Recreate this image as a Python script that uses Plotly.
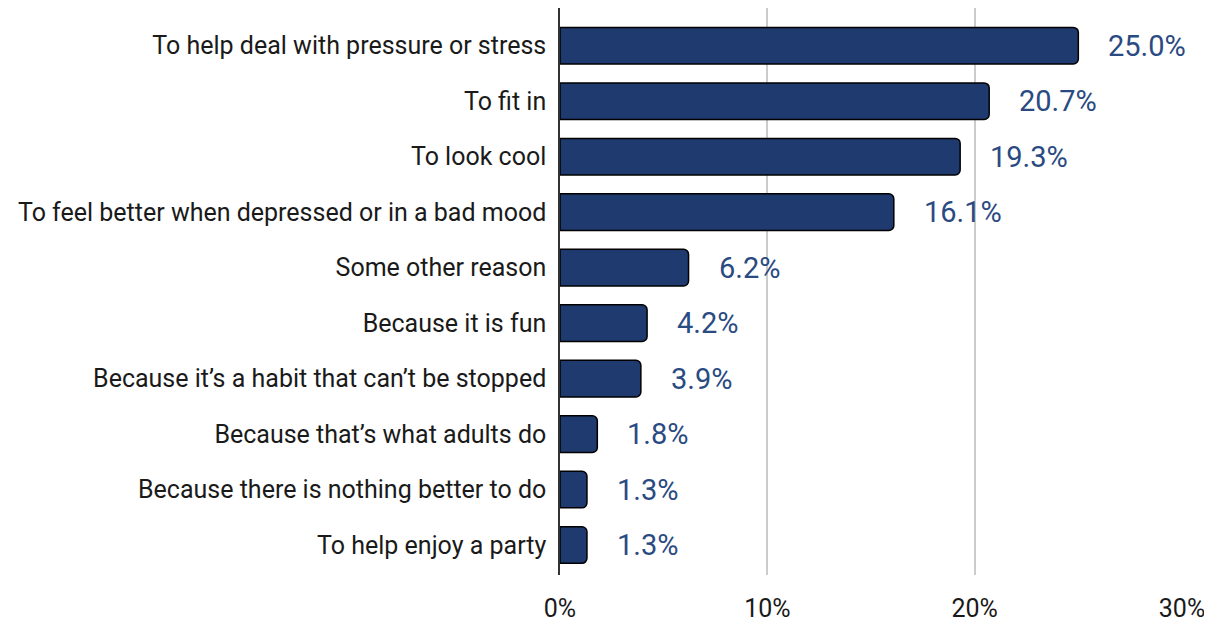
import plotly.graph_objects as go

categories = [
    "To help deal with pressure or stress",
    "To fit in",
    "To look cool",
    "To feel better when depressed or in a bad mood",
    "Some other reason",
    "Because it is fun",
    "Because it\u2019s a habit that can\u2019t be stopped",
    "Because that\u2019s what adults do",
    "Because there is nothing better to do",
    "To help enjoy a party",
]
values = [25.0, 20.7, 19.3, 16.1, 6.2, 4.2, 3.9, 1.8, 1.3, 1.3]
x_ticks = [0, 10, 20, 30]
x_tick_labels = ["0%", "10%", "20%", "30%"]

bar_color = "#1f3a6e"
label_color = "#2a4a82"

fig = go.Figure()
fig.add_trace(go.Bar(
    y=categories,
    x=values,
    orientation="h",
    marker=dict(color=bar_color, line=dict(color="#000000", width=1.5), cornerradius=5),
    width=0.66,
    hoverinfo="skip",
))

for c, v in zip(categories, values):
    fig.add_annotation(
        x=v, y=c, text=f"{v:.1f}%", showarrow=False,
        xanchor="left", yanchor="middle", xshift=28,
        font=dict(family="Roboto", size=29, color=label_color),
    )

fig.update_layout(
    width=1212, height=624,
    margin=dict(l=552, r=38, t=0, b=57),
    plot_bgcolor="white", paper_bgcolor="white",
    font=dict(family="Roboto", size=25, color="#1a1a1a"),
    showlegend=False,
    xaxis=dict(
        range=[0, 30], tickvals=x_ticks, ticktext=x_tick_labels,
        showgrid=True, gridcolor="#cccccc", gridwidth=1.5,
        zeroline=False, showline=False, ticks="",
        ticklabelstandoff=16,
        tickfont=dict(size=25, color="#1a1a1a"),
    ),
    yaxis=dict(
        categoryorder="array", categoryarray=categories,
        autorange=False, range=[9.54, -0.68],
        showline=True, linecolor="#333333", linewidth=1.5,
        showgrid=False, ticks="", ticklabelstandoff=7,
        tickfont=dict(size=25, color="#1a1a1a"),
    ),
)

fig.write_html("out.html")
